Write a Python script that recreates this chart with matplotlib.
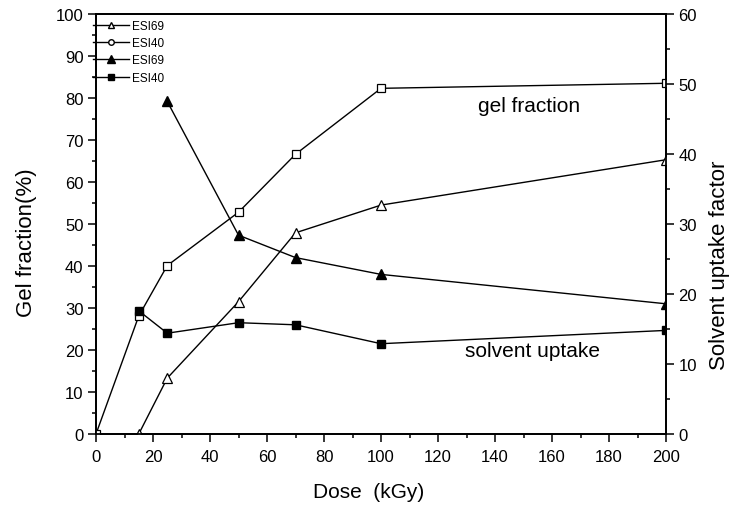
import matplotlib.pyplot as plt
from matplotlib.lines import Line2D
from matplotlib.ticker import MultipleLocator

plt.rcParams['font.family'] = ['Liberation Sans', 'DejaVu Sans']

# gel fraction (%), left axis
dose_esi40_gel = [0, 15, 25, 50, 70, 100, 200]
gel_esi40 = [0, 28.1, 40.1, 52.8, 66.6, 82.3, 83.5]
dose_esi69_gel = [15, 25, 50, 70, 100, 200]
gel_esi69 = [0, 13.3, 31.5, 47.9, 54.5, 65.3]

# solvent uptake factor, right axis
dose_esi69_sw = [25, 50, 70, 100, 200]
sw_esi69 = [47.5, 28.4, 25.2, 22.8, 18.6]
dose_esi40_sw = [15, 25, 50, 70, 100, 200]
sw_esi40 = [17.6, 14.4, 15.9, 15.6, 12.9, 14.8]

legend_labels = ["ESI69", "ESI40", "ESI69", "ESI40"]

fig = plt.figure(figsize=(7.29, 5.06), dpi=100)
ax = fig.add_axes([0.1317, 0.1403, 0.7819, 0.8301])
ax2 = ax.twinx()

lw = 1.0
ax.plot(dose_esi40_gel, gel_esi40, color='black', lw=lw, marker='s', ms=6.3,
        mfc='white', mec='black', mew=0.9, zorder=3)
ax.plot(dose_esi69_gel, gel_esi69, color='black', lw=lw, marker='^', ms=7.3,
        mfc='white', mec='black', mew=0.9, zorder=3)
ax2.plot(dose_esi69_sw, sw_esi69, color='black', lw=lw, marker='^', ms=7.5,
         mfc='black', mec='black', zorder=3)
ax2.plot(dose_esi40_sw, sw_esi40, color='black', lw=lw, marker='s', ms=6.3,
         mfc='black', mec='black', zorder=3)

ax.set_xlim(0, 200)
ax.set_ylim(0, 100)
ax2.set_ylim(0, 60)

ax.xaxis.set_major_locator(MultipleLocator(20))
ax.xaxis.set_minor_locator(MultipleLocator(10))
ax.yaxis.set_major_locator(MultipleLocator(10))
ax.yaxis.set_minor_locator(MultipleLocator(5))
ax2.yaxis.set_major_locator(MultipleLocator(10))
ax2.yaxis.set_minor_locator(MultipleLocator(5))

for a in (ax, ax2):
    a.tick_params(which='major', direction='out', length=6, width=1.1,
                  labelsize=12, pad=3)
    a.tick_params(which='minor', direction='out', length=3, width=1.1)
    for s in a.spines.values():
        s.set_linewidth(1.3)
ax.tick_params(top=False, which='both')
ax.tick_params(axis='x', pad=5)

ax.set_xlabel('Dose  (kGy)', fontsize=15, va='center')
ax.set_ylabel('Gel fraction(%)', fontsize=16, ha='center', va='center')
ax2.set_ylabel('Solvent uptake factor', fontsize=16, ha='center', va='center')
ax.xaxis.set_label_coords(0.479, -0.136)
ax.yaxis.set_label_coords(-0.122, 0.457)
ax2.yaxis.set_label_coords(1.093, 0.405)

ax.text(152, 78.3, 'gel fraction', fontsize=15, ha='center', va='center')
ax.text(153, 20, 'solvent uptake', fontsize=15, ha='center', va='center')

handles = [
    Line2D([], [], color='black', lw=lw, marker='^', ms=5, mfc='white', mec='black'),
    Line2D([], [], color='black', lw=lw, marker='o', ms=4, mfc='white', mec='black'),
    Line2D([], [], color='black', lw=lw, marker='^', ms=5.5, mfc='black', mec='black'),
    Line2D([], [], color='black', lw=lw, marker='s', ms=4, mfc='black', mec='black'),
]
ax.legend(handles, legend_labels, loc='upper left', bbox_to_anchor=(-0.005, 0.986),
          frameon=False, fontsize=8.5, handlelength=3.0, handletextpad=0.25,
          labelspacing=0.45, borderaxespad=0, borderpad=0)

fig.savefig('out.png', dpi=100)
